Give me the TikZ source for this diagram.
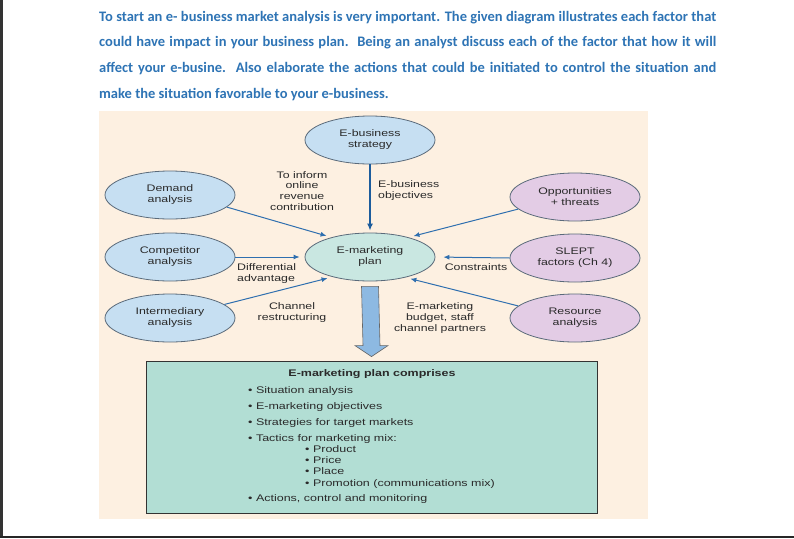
\documentclass[tikz,border=0pt]{standalone}
\usepackage{fontspec}
\usetikzlibrary{shapes.geometric,arrows.meta,calc}
\newfontfamily\diagfont[FakeStretch=1.3]{Liberation Sans}
\newfontfamily\headfont{Carlito}
\definecolor{headblue}{HTML}{2E74B5}
\definecolor{beige}{HTML}{FDF0E1}
\definecolor{lblue}{HTML}{C6DFF2}
\definecolor{lpurple}{HTML}{E3CCE5}
\definecolor{lteal}{HTML}{C9E7E1}
\definecolor{ellborder}{HTML}{5A6A7A}
\definecolor{connblue}{HTML}{2F6FAF}
\definecolor{darkconn}{HTML}{1C5C9C}
\definecolor{blockblue}{HTML}{8DB9E2}
\definecolor{boxteal}{HTML}{B2DED4}
\definecolor{txt}{HTML}{2A2A2A}
\begin{document}
\begin{tikzpicture}[x=1pt,y=-1pt,
  ell/.style={ellipse, draw=ellborder, line width=0.8pt, minimum width=130pt, minimum height=48pt,
    inner sep=0pt, align=center, text=txt, font=\diagfont\fontsize{9.5}{11}\selectfont},
  lab/.style={align=center, text=txt, inner sep=0pt, font=\diagfont\fontsize{9.5}{10.8}\selectfont},
  conn/.style={draw=connblue, line width=1pt, -{Latex[length=6pt,width=5pt]}, shorten >=5pt},
  item/.style={anchor=base west, inner sep=0pt, text=txt, font=\diagfont\fontsize{9.6}{11}\selectfont},
  headline/.style={anchor=base west, inner sep=0pt, text=headblue, font=\headfont\bfseries\fontsize{14.5}{16}\selectfont}
]
\useasboundingbox (0,0) rectangle (794,538);
\fill[white] (0,0) rectangle (794,538);
\fill[black!80] (0,0) rectangle (3,538);
\fill[black!85] (0,535.5) rectangle (794,538);

% header text
\node[headline] (h1) at (99,21) {\makebox[617pt][s]{To start an e- business market analysis is very important. The given diagram illustrates each factor that}};
\node[headline] (h2) at (99,46.5) {\makebox[617pt][s]{could have impact in your business plan.\ \ Being an analyst discuss each of the factor that how it will}};
\node[headline] (h3) at (99,72) {\makebox[617pt][s]{affect your e-busine.\ \ Also elaborate the actions that could be initiated to control the situation and}};
\node[headline] (h4) at (99,98) {make the situation favorable to your e-business.};

% background panel
\fill[beige] (99,111) rectangle (648,519);

% ellipses
\node[ell, fill=lblue] (strat) at (370,140) {E-business\\strategy};
\node[ell, fill=lteal] (plan) at (370,257) {E-marketing\\plan};
\node[ell, fill=lblue] (dem) at (170,195) {Demand\\analysis};
\node[ell, fill=lblue] (comp) at (170,257) {Competitor\\analysis};
\node[ell, fill=lblue] (inter) at (170,318) {Intermediary\\analysis};
\node[ell, fill=lpurple] (opp) at (575,197) {Opportunities\\+ threats};
\node[ell, fill=lpurple] (slept) at (575,258) {SLEPT\\factors (Ch 4)};
\node[ell, fill=lpurple] (res) at (575,318) {Resource\\analysis};

% connectors
\draw[draw=darkconn, line width=1.6pt, -{Latex[length=7pt,width=6pt]}, shorten >=2pt] (strat.south) -- (plan.north);
\draw[conn] (dem.-12) -- (plan.153);
\draw[conn] (opp.192) -- (plan.27);
\draw[conn] (comp.east) -- (plan.west);
\draw[conn, shorten >=8pt] (slept.west) -- (plan.east);
\draw[conn] (inter.14) -- (plan.-152);
\draw[conn] (res.168) -- (plan.-30);

% labels
\node[lab] (l1) at (302,191) {To inform\\online\\revenue\\contribution};
\node[lab, align=left, anchor=west] (l2) at (378,190.5) {E-business\\objectives};
\node[lab, align=left, anchor=west] (l3) at (237,273.5) {Differential\\advantage};
\node[lab] (l4) at (476,267) {Constraints};
\node[lab] (l5) at (292,312.5) {Channel\\restructuring};
\node[lab] (l6) at (440,318) {E-marketing\\budget, staff\\channel partners};

% box
\node[draw=black!80, fill=boxteal, line width=0.8pt, minimum width=451pt, minimum height=152pt, inner sep=0pt] (box) at (371.5,437) {};

% block arrow
\coordinate (bt) at ($(plan.south)+(0,5)$);
\coordinate (bb) at ($(box.north)+(0,-4)$);
\draw[fill=blockblue, draw=black!60, line width=0.6pt]
  ($(bt)+(-8.5,0)$) -- ($(bt)+(8.5,0)$) -- ($(bb)+(8.5,-11)$) -- ($(bb)+(16.5,-11)$) -- (bb)
  -- ($(bb)+(-16.5,-11)$) -- ($(bb)+(-8.5,-11)$) -- cycle;

% box text
\node[item, anchor=base, font=\diagfont\bfseries\fontsize{9.6}{11}\selectfont] (t0) at (372,376.5) {E-marketing plan comprises};
\node[item] (t1) at (248,393.5) {• Situation analysis};
\node[item] (t2) at (248,409.5) {• E-marketing objectives};
\node[item] (t3) at (248,425.5) {• Strategies for target markets};
\node[item] (t4) at (248,441.5) {• Tactics for marketing mix:};
\node[item] (t5) at (305,452.5) {• Product};
\node[item] (t6) at (305,463.5) {• Price};
\node[item] (t7) at (305,474.5) {• Place};
\node[item] (t8) at (305,486) {• Promotion (communications mix)};
\node[item] (t9) at (248,501.5) {• Actions, control and monitoring};
\end{tikzpicture}
\end{document}
